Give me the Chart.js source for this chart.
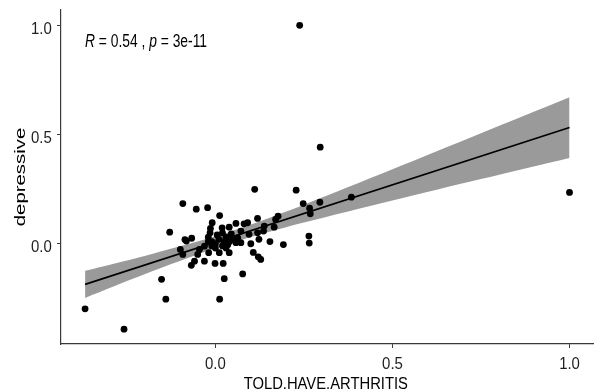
<!DOCTYPE html>
<html>
<head>
<meta charset="utf-8">
<script src="https://cdn.jsdelivr.net/npm/chart.js@4.4.0/dist/chart.umd.min.js"></script>
<style>
  html, body { margin: 0; padding: 0; background: #fff; }
  #wrap { width: 597px; height: 392px; }
</style>
</head>
<body>
<div id="wrap"><canvas id="scatterChart" width="597" height="392"></canvas></div>
<script>
// values
const pointX = [
  0.238, 0.296, 1.000, 0.228, 0.384, 0.111, 0.248, 0.266, 0.295, 0.268, 0.264, 0.265,
  -0.368, -0.258, -0.152, -0.140, 0.012, 0.025, 0.077, -0.129, -0.092, -0.054, -0.022, 0.012,
  -0.086, -0.067, -0.099, -0.092, -0.068, -0.059, -0.031, -0.001, 0.022, -0.050, -0.045, -0.019,
  0.011, 0.039, -0.082, -0.031,
  0.119, 0.091, 0.081, 0.058, 0.177, 0.170, 0.166, 0.138, 0.136, 0.119, 0.095, 0.072,
  0.063, 0.154, 0.192, 0.123, 0.100, 0.072, 0.107, 0.121, 0.128, 0.058, -0.009, -0.014,
  0.019, 0.039,
  0.000, 0.010, -0.010, 0.020, 0.030, 0.040, -0.020, 0.000, 0.050, 0.020, -0.010, 0.030,
  -0.020, 0.045, 0.005, -0.015, 0.025, 0.035
];
const pointY = [
  1.000, 0.442, 0.235, 0.245, 0.213, 0.249, 0.184, 0.163, 0.190, 0.137, 0.035, 0.003,
  -0.298, -0.391, -0.163, -0.254, -0.254, -0.160, -0.138, 0.053, 0.184, 0.158, 0.165, 0.129,
  0.019, 0.025, -0.026, -0.049, -0.099, -0.080, -0.080, -0.090, -0.090, -0.049, -0.026, -0.041,
  -0.041, -0.041, 0.012, -0.011,
  0.116, 0.096, 0.091, 0.093, 0.126, 0.111, 0.076, 0.081, 0.058, 0.050, 0.043, 0.058,
  0.027, 0.010, -0.004, 0.020, 0.000, 0.005, -0.040, -0.060, -0.072, 0.005, 0.096, 0.070,
  0.073, 0.076,
  0.000, 0.020, 0.010, -0.010, 0.030, 0.010, 0.030, -0.020, 0.020, 0.050, -0.010, -0.020,
  0.010, 0.045, 0.040, 0.050, 0.010, -0.005
];

// regression line and its confidence band
const fitX = [-0.368, 1.0];
const fitY = [-0.186, 0.532];
const bandX = [-0.368, -0.2, 0, 0.1, 0.25, 0.5, 0.75, 1.0];
const bandUpper = [-0.124, -0.056, 0.034, 0.088, 0.179, 0.341, 0.506, 0.671];
const bandLower = [-0.248, -0.140, -0.020, 0.031, 0.097, 0.198, 0.296, 0.393];

const xTicks = [0, 0.5, 1];
const yTicks = [0, 0.5, 1];
const xTickLabels = ['0.0', '0.5', '1.0'];
const yTickLabels = ['0.0', '0.5', '1.0'];

const FONT = "'Liberation Sans', Arial, sans-serif";
const AXIS_COLOR = '#3a3a3a';

const toXY = (xs, ys) => xs.map((x, i) => ({ x, y: ys[i] }));

// the reference text is a bit squeezed sideways, so draw it with a horizontal scale
function drawText(ctx, txt, x, y, o) {
  ctx.save();
  ctx.translate(x, y);
  ctx.scale(o.sx, 1);
  if (o.rotate) ctx.rotate(-Math.PI / 2);
  ctx.font = (o.italic ? 'italic ' : '') + o.size + 'px ' + FONT;
  ctx.fillStyle = o.color || '#000';
  ctx.textAlign = o.align || 'left';
  ctx.textBaseline = 'alphabetic';
  ctx.fillText(txt, 0, 0);
  const w = ctx.measureText(txt).width * o.sx;
  ctx.restore();
  return w;
}

const textLayer = {
  id: 'textLayer',
  afterDraw(chart) {
    const { ctx, chartArea } = chart;
    const xs = chart.scales.x;
    const ys = chart.scales.y;
    const tick = { size: 17.2, sx: 0.87, color: '#1e1e1e' };

    xTicks.forEach((v, i) => {
      drawText(ctx, xTickLabels[i], xs.getPixelForValue(v), chartArea.bottom + 24.5,
        { ...tick, align: 'center' });
    });
    yTicks.forEach((v, i) => {
      drawText(ctx, yTickLabels[i], chartArea.left - 9.3, ys.getPixelForValue(v) + 8.5,
        { ...tick, align: 'right' });
    });

    // axis titles
    drawText(ctx, 'TOLD.HAVE.ARTHRITIS', (chartArea.left + chartArea.right) / 2 - 1.5,
      chartArea.bottom + 45, { size: 17.2, sx: 0.86, align: 'center' });
    drawText(ctx, 'depressive', 25, (chartArea.top + chartArea.bottom) / 2,
      { size: 20.4, sx: 0.72, align: 'center', rotate: true });

    // stat_cor style label, top-left of the panel
    const parts = [['R', true], [' = 0.54 , ', false], ['p', true], [' = 3e-11', false]];
    let x = chartArea.left + 24;
    const y = chartArea.top + 36.7;
    parts.forEach(([txt, italic]) => {
      x += drawText(ctx, txt, x, y, { size: 18.7, sx: 0.74, italic });
    });
  }
};

const ctx = document.getElementById('scatterChart');
new Chart(ctx, {
  type: 'scatter',
  data: {
    datasets: [
      {
        label: 'points',
        data: toXY(pointX, pointY),
        backgroundColor: '#000',
        borderColor: '#000',
        pointRadius: 3.4,
        pointHoverRadius: 3.4,
        borderWidth: 0,
        order: 0,
      },
      {
        type: 'line',
        label: 'fit',
        data: toXY(fitX, fitY),
        borderColor: '#000',
        borderWidth: 1.6,
        pointRadius: 0,
        fill: false,
        order: 1,
      },
      {
        type: 'line',
        label: 'upper',
        data: toXY(bandX, bandUpper),
        borderWidth: 0,
        borderColor: 'rgba(0,0,0,0)',
        pointRadius: 0,
        fill: false,
        tension: 0.3,
        order: 2,
      },
      {
        type: 'line',
        label: 'lower',
        data: toXY(bandX, bandLower),
        borderWidth: 0,
        borderColor: 'rgba(0,0,0,0)',
        backgroundColor: '#9a9a9a',
        pointRadius: 0,
        fill: '-1',
        tension: 0.3,
        order: 3,
      },
    ],
  },
  options: {
    responsive: false,
    animation: false,
    layout: { padding: { top: 10, right: 0, left: 0, bottom: 0 } },
    plugins: {
      legend: { display: false },
      tooltip: { enabled: false },
    },
    scales: {
      x: {
        type: 'linear',
        min: -0.436,
        max: 1.068,
        afterFit: (scale) => { scale.height = 48; },
        afterBuildTicks: (scale) => { scale.ticks = xTicks.map((v) => ({ value: v })); },
        ticks: { display: false },
        grid: { drawOnChartArea: false, drawTicks: true, tickLength: 4, color: AXIS_COLOR },
        border: { display: true, color: AXIS_COLOR, width: 1.2 },
      },
      y: {
        type: 'linear',
        min: -0.459,
        max: 1.070,
        afterFit: (scale) => { scale.width = 61; },
        afterBuildTicks: (scale) => { scale.ticks = yTicks.map((v) => ({ value: v })); },
        ticks: { display: false },
        grid: { drawOnChartArea: false, drawTicks: true, tickLength: 4, color: AXIS_COLOR },
        border: { display: true, color: AXIS_COLOR, width: 1.2 },
      },
    },
  },
  plugins: [textLayer],
});
</script>
</body>
</html>
